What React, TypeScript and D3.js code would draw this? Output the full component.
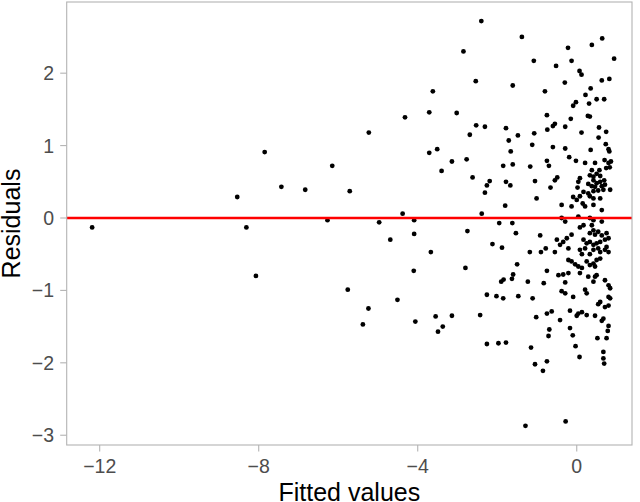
import React from 'react';
import * as d3 from 'd3';

// fitted values / residuals
const fitted: number[] = [
  -12.19, -8.54, -7.85, -8.31, -7.43, -6.83, -8.07, -2.85, -3.62, -4.32,
  -3.71, -3.02, -5.23, -2.69, -3.71, -3.51, -3.14, -3.40, -2.77, -6.15,
  -5.71, -6.27, -4.97, -4.38, -4.09, -4.09, -4.69, -2.75, -3.67, -4.10,
  -2.80, -5.76, -4.51, -5.24, -5.38, -4.06, -3.55, -3.14, -3.37, -3.49,
  -2.40, -1.38, -1.08, -2.54, -1.61, -0.80, -0.75, -2.53, -2.31, -1.78,
  -1.48, -1.07, -0.74, -1.71, -1.12, -1.66, -1.85, -1.61, -1.17, -0.75,
  -0.70, -2.62, -2.19, -2.26, -1.78, -1.67, -1.05, -0.66, -2.31, -1.01,
  -1.80, -2.39, -1.95, -1.62,
  -1.53, -0.92, -2.12, -1.88, -1.18, -0.90, -0.78, -1.50, -0.75, -1.60,
  -1.63, -1.84, -1.90, -1.23, -0.83, -2.26, -2.02, -1.85, -1.47, -1.11,
  -2.43, -1.02, -0.75, -0.69, -0.71, -2.26, -1.97, -1.78, -1.15, -0.75,
  -1.05, -0.85, -1.29,
  -0.22, 0.38, 0.64, 0.94, -0.52, -0.13, 0.07, 0.12, -0.30, 0.63,
  0.82, 0.35, 0.22, 0.50, 0.69, 0.31, -0.02, -0.09, -0.15, 0.28,
  0.33,
  -0.55, -0.60, -0.29, 0.56, 0.12, 0.74, 0.55, -0.60, -0.29, 0.35,
  0.73, 0.80, 0.82, -0.19, -0.02, 0.21, 0.46, 0.70, 0.80, 0.86,
  0.74, 0.83, 0.38, 0.57, 0.50, 0.59, 0.42, 0.33, -0.49, -0.55,
  0.08, 0.04, 0.42, 0.50, 0.59, 0.69, 0.29, 0.38, 0.46, 0.63,
  0.71, 0.02, 0.17, 0.29, 0.42, 0.54, 0.67, 0.84, -0.09, 0.00,
  0.08, 0.33, 0.42, 0.59, 0.15, 0.21, -0.38, -0.13, 0.42, 0.63,
  0.04, -0.38, -0.29, 0.33, 0.42, 0.17, 0.38,
  0.63, 0.08, 0.42, 0.33, 0.46, 0.54, 0.63, 0.75, -0.50, -0.42,
  -0.34, -0.25, -0.13, 0.17, 0.25, 0.33, 0.42, 0.50, 0.59, 0.71,
  0.80, -0.55, -0.21, 0.08, 0.21, 0.42, 0.54, 0.59, 0.71, 0.80,
  0.75, 0.33, 0.13, -0.21, -0.13, -0.04, 0.04, 0.13, 0.25, 0.33,
  0.42, 0.50, 0.59, 0.46, -0.46, -0.34, -0.21, 0.08, 0.29, 0.46,
  0.50, -0.29, 0.42, 0.71, 0.80, 0.84, -0.38, -0.29, -0.09, 0.21,
  0.25, 0.80, 0.84, 0.59, 0.54, 0.71, 0.80, -0.63, -0.17, 0.04,
  0.13, 0.00, 0.25, 0.46, 0.63, 0.67, -0.42, 0.80,
  -0.17, -0.10, 0.78, 0.75, 0.52, -0.03, 0.07, 0.67, 0.67, 0.69,
  -0.28,
];

const residuals: number[] = [
  -0.13, 0.29, 0.91, -0.13, 0.43, 0.39, -0.80, 2.30, 1.75, 1.39,
  1.46, 1.45, 1.18, 1.15, 0.90, 0.95, 0.78, 0.65, 0.81, 0.72,
  0.37, -0.03, -0.06, 0.06, -0.03, -0.22, -0.30, -0.18, -0.47, -0.73,
  -0.69, -0.99, -1.13, -1.25, -1.47, -1.43, -1.36, -1.35, -1.50, -1.57,
  2.72, 2.50, 2.17, 1.89, 1.83, 1.75, 1.42, 1.28, 1.26, 1.24,
  1.14, 1.17, 1.22, 1.07, 1.01, 0.92, 0.72, 0.74, 0.71, 0.79,
  0.72, 0.56, 0.51, 0.45, 0.50, 0.45, 0.51, 0.42, 0.35, 0.27,
  0.17, 0.06, -0.07, -0.07,
  -0.21, -0.24, -0.36, -0.41, -0.47, -0.47, -0.42, -0.64, -0.73, -0.78,
  -0.84, -0.85, -0.88, -0.88, -0.90, -1.06, -1.08, -1.11, -1.08, -1.11,
  -1.34, -1.37, -1.32, -1.54, -1.63, -1.74, -1.73, -1.72, -1.79, -1.98,
  -2.02, -2.11, -2.87,
  2.35, 2.39, 2.48, 2.20, 2.10, 2.17, 2.03, 1.98, 1.87, 1.90,
  1.92, 1.79, 1.70, 1.64, 1.64, 1.58, 1.60, 1.55, 1.37, 1.41,
  1.40,
  1.30, 1.27, 1.26, 1.25, 1.18, 1.19, 1.11, 0.98, 0.96, 0.94,
  1.02, 0.95, 0.92, 0.84, 0.79, 0.76, 0.76, 0.80, 0.76, 0.78,
  0.69, 0.70, 0.66, 0.66, 0.61, 0.58, 0.57, 0.59, 0.56, 0.52,
  0.55, 0.50, 0.52, 0.48, 0.50, 0.52, 0.47, 0.44, 0.43, 0.44,
  0.46, 0.42, 0.36, 0.34, 0.37, 0.38, 0.39, 0.39, 0.29, 0.25,
  0.30, 0.30, 0.27, 0.27, 0.20, 0.16, 0.18, 0.16, 0.18, 0.11,
  0.02, 0.00, -0.05, 0.00, -0.03, -0.10, -0.10,
  -0.05, -0.13, -0.17, -0.21, -0.23, -0.19, -0.24, -0.21, -0.30, -0.37,
  -0.33, -0.28, -0.23, -0.30, -0.35, -0.33, -0.37, -0.35, -0.33, -0.30,
  -0.28, -0.47, -0.42, -0.44, -0.42, -0.44, -0.42, -0.47, -0.44, -0.47,
  -0.40, -0.50, -0.50, -0.58, -0.60, -0.64, -0.67, -0.69, -0.60, -0.65,
  -0.63, -0.58, -0.56, -0.67, -0.79, -0.78, -0.76, -0.76, -0.81, -0.81,
  -0.79, -0.89, -0.88, -0.86, -0.93, -0.97, -1.01, -1.04, -1.09, -0.99,
  -1.04, -1.09, -1.11, -1.16, -1.19, -1.23, -1.21, -1.29, -1.28, -1.32,
  -1.30, -1.35, -1.34, -1.35, -1.42, -1.39, -1.41, -1.49,
  -1.52, -1.62, -1.56, -1.66, -1.66, -1.77, -1.92, -1.85, -1.94, -2.01,
  -2.81,
];

const xTicks = [-12, -8, -4, 0];
const yTicks = [-3, -2, -1, 0, 1, 2];

const W = 640;
const H = 502;
const panel = { left: 66.7, right: 632, top: 2, bottom: 445 };

const fmt = (v: number) => (v < 0 ? `\u2212${Math.abs(v)}` : `${v}`);

export default function App() {
  const x = d3.scaleLinear().domain([-12.83, 1.39]).range([panel.left, panel.right]);
  const y = d3.scaleLinear().domain([-3.135, 2.983]).range([panel.bottom, panel.top]);
  const font = "'Liberation Sans', Arial, Helvetica, sans-serif";
  const grey = '#b3b3b3';
  const pts = fitted.map((f, i) => ({ f, r: residuals[i] }));

  return (
    <div style={{ position: 'absolute', left: 0, top: 0 }}>
      <svg width={W} height={H} style={{ display: 'block', background: '#fff' }} fontFamily={font}>
        <rect
          x={panel.left}
          y={panel.top}
          width={panel.right - panel.left}
          height={panel.bottom - panel.top}
          fill="#fff"
        />
        {pts.map((p, i) => (
          <circle key={i} cx={x(p.f)} cy={y(p.r)} r={2.4} fill="#000" />
        ))}
        <line x1={panel.left} x2={panel.right} y1={y(0)} y2={y(0)} stroke="#ff0000" strokeWidth={2.4} />
        <rect
          x={panel.left}
          y={panel.top}
          width={panel.right - panel.left}
          height={panel.bottom - panel.top}
          fill="none"
          stroke={grey}
          strokeWidth={1.1}
        />
        {xTicks.map(t => (
          <g key={t}>
            <line x1={x(t)} x2={x(t)} y1={panel.bottom} y2={panel.bottom + 6.5} stroke={grey} strokeWidth={1.1} />
            <text x={x(t)} y={473} textAnchor="middle" fontSize={19.5} fill="#4d4d4d">
              {fmt(t)}
            </text>
          </g>
        ))}
        {yTicks.map(t => (
          <g key={t}>
            <line x1={panel.left - 6.5} x2={panel.left} y1={y(t)} y2={y(t)} stroke={grey} strokeWidth={1.1} />
            <text x={54} y={y(t)} dy="0.36em" textAnchor="end" fontSize={19.5} fill="#4d4d4d">
              {fmt(t)}
            </text>
          </g>
        ))}
        <text x={(panel.left + panel.right) / 2} y={500.5} textAnchor="middle" fontSize={25} fill="#000">
          Fitted values
        </text>
        <text
          transform={`translate(20, ${(panel.top + panel.bottom) / 2}) rotate(-90)`}
          textAnchor="middle"
          fontSize={25}
          fill="#000"
        >
          Residuals
        </text>
      </svg>
    </div>
  );
}
